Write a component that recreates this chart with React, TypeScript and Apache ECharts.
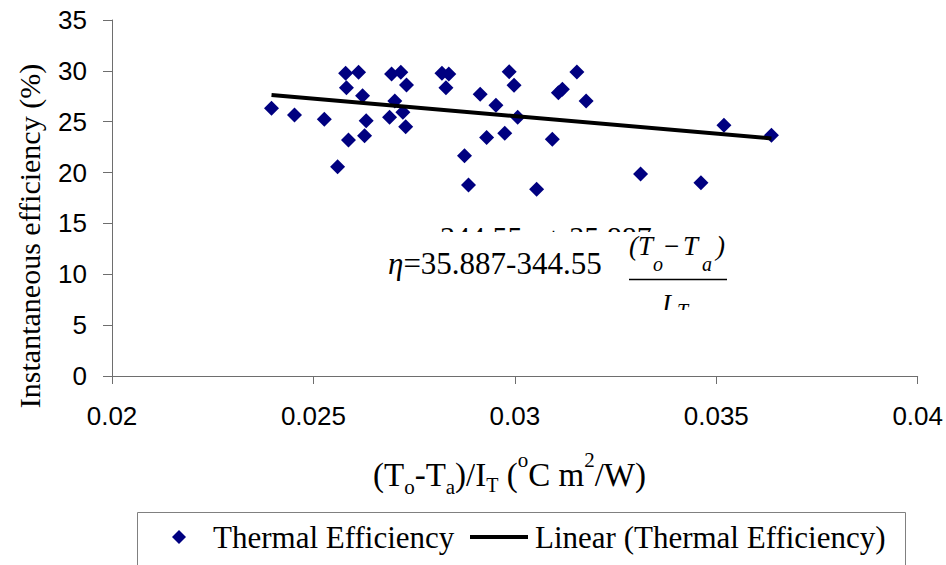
import React, { useEffect, useRef } from 'react';
import * as echarts from 'echarts';

// ---- data ----
const xValues = [
  0.02396, 0.02453, 0.02527, 0.0258, 0.02612, 0.02582, 0.02622, 0.02631, 0.02627, 0.02587,
  0.0256, 0.02694, 0.02717, 0.02731, 0.02702, 0.02689, 0.02722, 0.02729, 0.02819, 0.02836,
  0.02829, 0.02914, 0.02953, 0.03007, 0.02986, 0.02998, 0.0293, 0.02975, 0.02875, 0.02885,
  0.03054, 0.03093, 0.03108, 0.03118, 0.03154, 0.03177, 0.03312, 0.03462, 0.03519, 0.03637,
];
const yValues = [
  26.32, 25.66, 25.24, 29.76, 29.86, 28.35, 27.56, 25.1, 23.63, 23.2,
  20.58, 29.69, 29.86, 28.61, 27.04, 25.44, 25.93, 24.51, 29.76, 29.69,
  28.35, 27.7, 26.63, 25.44, 29.91, 28.59, 23.45, 23.87, 21.66, 18.78,
  18.36, 23.27, 27.85, 28.19, 29.89, 27.04, 19.86, 19.01, 24.65, 23.67,
];
const TREND_INTERCEPT = 35.887;
const TREND_SLOPE = -344.55;
const xTicks = [0.02, 0.025, 0.03, 0.035, 0.04];
const yTicks = [0, 5, 10, 15, 20, 25, 30, 35];
const seriesNames = ['Thermal Efficiency', 'Linear (Thermal Efficiency)'];
const yTitle = 'Instantaneous efficiency (%)';

const SERIF = 'Liberation Serif';
const SANS = 'Liberation Sans';

type Piece = { text: string; size: number; dy?: number; italic?: boolean; x?: number };

function fontOf(p: Piece) {
  return `${p.italic ? 'italic ' : 'normal '}${p.size}px "${SERIF}"`;
}

function txt(x: number, baseline: number, p: Piece) {
  return {
    type: 'text',
    x,
    y: baseline + (p.dy || 0) - 0.34 * p.size,
    silent: true,
    style: {
      text: p.text,
      font: fontOf(p),
      fontFamily: SERIF,
      fontSize: p.size,
      fontStyle: p.italic ? 'italic' : 'normal',
      fill: '#000',
      align: 'left',
      verticalAlign: 'middle',
    },
  };
}

function run(startX: number, baseline: number, pieces: Piece[]) {
  const ctx = document.createElement('canvas').getContext('2d')!;
  let x = startX;
  const out: any[] = [];
  for (const p of pieces) {
    const px = p.x !== undefined ? p.x : x;
    ctx.font = fontOf(p);
    out.push(txt(px, baseline, p));
    x = px + ctx.measureText(p.text).width;
  }
  return out;
}

export default function App() {
  const ref = useRef<HTMLDivElement>(null);
  useEffect(() => {
    document.body.style.margin = '0';
    const chart = echarts.init(ref.current!, null, { renderer: 'svg' });

    const scatterData = xValues.map((x, i) => [x, yValues[i]]);
    const xMin = Math.min(...xValues);
    const xMax = Math.max(...xValues);
    const trendData = [xMin, xMax].map((x) => [x, TREND_INTERCEPT + TREND_SLOPE * x]);

    const graphics: any[] = [];
    // Excel trendline label, mostly hidden behind the equation image
    graphics.push(...run(383, 247, [{ text: 'y = -344.55x + 35.887', size: 30 }]));
    graphics.push({
      type: 'rect',
      silent: true,
      shape: { x: 376, y: 232, width: 362, height: 78 },
      style: { fill: '#fff' },
    });
    // equation
    graphics.push(
      ...run(388, 274, [
        { text: 'η', size: 31, italic: true },
        { text: '=35.887-344.55', size: 31 },
      ])
    );
    graphics.push(
      txt(629, 255, { text: '(', size: 27, italic: true }),
      txt(638, 255, { text: 'T', size: 27, italic: true }),
      txt(653, 271, { text: 'o', size: 20, italic: true }),
      txt(664, 255, { text: '−', size: 27 }),
      txt(683, 255, { text: 'T', size: 27, italic: true }),
      txt(702, 271, { text: 'a', size: 20, italic: true }),
      txt(716, 255, { text: ')', size: 27, italic: true })
    );
    graphics.push({
      type: 'line',
      silent: true,
      shape: { x1: 629, y1: 279.5, x2: 727, y2: 279.5 },
      style: { stroke: '#000', lineWidth: 1.5 },
    });
    graphics.push(
      txt(662, 313, { text: 'I', size: 27, italic: true }),
      txt(677, 318, { text: 'T', size: 20, italic: true })
    );
    graphics.push({
      type: 'rect',
      silent: true,
      shape: { x: 650, y: 310, width: 60, height: 25 },
      style: { fill: '#fff' },
    });
    // x-axis title
    graphics.push(
      ...run(373, 486, [
        { text: '(T', size: 33 },
        { text: 'o', size: 21, dy: 8 },
        { text: '-T', size: 33 },
        { text: 'a', size: 21, dy: 8 },
        { text: ')/I', size: 33 },
        { text: 'T', size: 20, dy: 6 },
        { text: ' (', size: 33 },
        { text: 'o', size: 21, dy: -19 },
        { text: 'C m', size: 33 },
        { text: '2', size: 21, dy: -19 },
        { text: '/W)', size: 33 },
      ])
    );
    // y-axis title
    graphics.push({
      type: 'text',
      x: 29,
      y: 236,
      rotation: Math.PI / 2,
      silent: true,
      style: {
        text: yTitle,
        font: `normal 30px "${SERIF}"`,
        fontFamily: SERIF,
        fontSize: 30,
        fill: '#000',
        align: 'center',
        verticalAlign: 'middle',
      },
    });
    // legend frame
    graphics.push({
      type: 'rect',
      silent: true,
      shape: { x: 137.5, y: 512.5, width: 768, height: 90 },
      style: { fill: 'none', stroke: '#808080', lineWidth: 1 },
    });

    const legendText = {
      fontFamily: SERIF,
      fontSize: 31,
      color: '#000',
      lineHeight: 34,
    };

    const option: any = {
      animation: false,
      backgroundColor: '#fff',
      grid: { left: 112, right: 26, top: 20, bottom: 189, containLabel: false },
      xAxis: {
        type: 'value',
        min: xTicks[0],
        max: xTicks[xTicks.length - 1],
        interval: xTicks[1] - xTicks[0],
        axisLine: { show: true, lineStyle: { color: '#6e6e6e', width: 1 } },
        axisTick: { show: true, inside: false, length: 8, lineStyle: { color: '#6e6e6e' } },
        splitLine: { show: false },
        axisLabel: {
          margin: 27,
          fontFamily: SANS,
          fontSize: 26,
          color: '#000',
          formatter: (v: number) => String(+v.toFixed(3)),
        },
      },
      yAxis: {
        type: 'value',
        min: yTicks[0],
        max: yTicks[yTicks.length - 1],
        interval: yTicks[1] - yTicks[0],
        axisLine: { show: true, lineStyle: { color: '#6e6e6e', width: 1 } },
        axisTick: { show: true, inside: false, length: 9, lineStyle: { color: '#6e6e6e' } },
        splitLine: { show: false },
        axisLabel: { margin: 25, fontFamily: SANS, fontSize: 26, color: '#000' },
      },
      legend: [
        {
          data: [{ name: seriesNames[0], icon: 'diamond' }],
          left: 172,
          top: 520,
          padding: 0,
          itemWidth: 14,
          itemHeight: 14,
          selectedMode: false,
          textStyle: { ...legendText, padding: [0, 0, 0, 22] },
        },
        {
          data: [{ name: seriesNames[1], icon: 'rect' }],
          left: 470,
          top: 520,
          padding: 0,
          itemWidth: 58,
          itemHeight: 4,
          selectedMode: false,
          textStyle: { ...legendText, padding: [0, 0, 0, 2] },
        },
      ],
      series: [
        {
          name: seriesNames[0],
          type: 'scatter',
          data: scatterData,
          symbol: 'diamond',
          symbolSize: 15,
          itemStyle: { color: '#000080', opacity: 1 },
          z: 3,
        },
        {
          name: seriesNames[1],
          type: 'line',
          data: trendData,
          showSymbol: false,
          symbol: 'none',
          lineStyle: { color: '#000', width: 4 },
          itemStyle: { color: '#000' },
          z: 4,
        },
      ],
      graphic: graphics,
    };
    chart.setOption(option);
    return () => chart.dispose();
  }, []);
  return <div ref={ref} style={{ width: 946, height: 565 }} />;
}
